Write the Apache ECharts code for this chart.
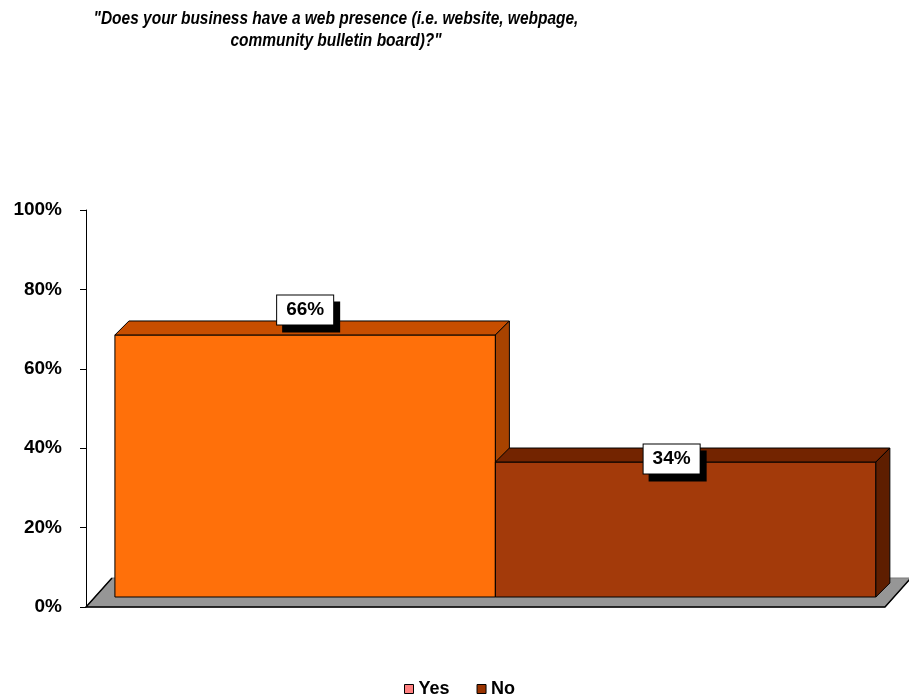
<!DOCTYPE html>
<html>
<head>
<meta charset="utf-8">
<script src="https://cdn.jsdelivr.net/npm/echarts@6/dist/echarts.min.js"></script>
<style>
  html, body { margin: 0; padding: 0; background: #ffffff; }
  #chart { width: 909px; height: 700px; }
</style>
</head>
<body>
<div id="chart"></div>
<script>
// Survey question and answers
const chartTitle = '"Does your business have a web presence (i.e. website, webpage,\ncommunity bulletin board)?"';
const answerNames = ['Yes', 'No'];
const answerShares = [66, 34];           // percent of respondents
const yTickValues = [0, 20, 40, 60, 80, 100];

const FONT = '"Liberation Sans", Arial, Helvetica, sans-serif';

// Face colours of each 3D block: front, top, side; plus the legend swatch
const faceColors = [
  { front: '#FF700A', top: '#C84E00', side: '#A84300', legend: '#FF8080' },
  { front: '#A33A0A', top: '#732400', side: '#5E1E00', legend: '#993300' }
];
// Where each value tag sits relative to the top-centre of its block's front face
const tagOffsets = [[0, -25], [-14, -3]];

const DEPTH_X = 14, DEPTH_Y = -14;   // block depth projection
const LIFT = 10;                     // blocks stand slightly behind the floor front edge
const FLOOR_DX = 26, FLOOR_DY = -29; // floor depth projection

function blockRenderer(idx) {
  const c = faceColors[idx];
  const off = tagOffsets[idx];
  return function (params, api) {
    const xi = api.value(0);
    const v = api.value(1);
    const base = api.coord([xi, 0]);
    const topRight = api.coord([xi + 1, v]);
    const x0 = base[0], x1 = topRight[0];
    const yb = base[1] - LIFT, yt = topRight[1] - LIFT;
    const edge = { stroke: '#000', lineWidth: 1 };
    return {
      type: 'group',
      children: [
        { type: 'polygon', shape: { points: [[x0, yb], [x1, yb], [x1, yt], [x0, yt]] },
          style: Object.assign({ fill: c.front }, edge) },
        { type: 'polygon', shape: { points: [[x0, yt], [x1, yt], [x1 + DEPTH_X, yt + DEPTH_Y], [x0 + DEPTH_X, yt + DEPTH_Y]] },
          style: Object.assign({ fill: c.top }, edge) },
        { type: 'polygon', shape: { points: [[x1, yb], [x1 + DEPTH_X, yb + DEPTH_Y], [x1 + DEPTH_X, yt + DEPTH_Y], [x1, yt]] },
          style: Object.assign({ fill: c.side }, edge) },
        { type: 'text', x: (x0 + x1) / 2 + off[0], y: yt + off[1], z2: 10,
          style: {
            text: v + '%', font: 'bold 19px ' + FONT, fill: '#000',
            align: 'center', verticalAlign: 'middle',
            backgroundColor: '#fff', borderColor: '#000', borderWidth: 1,
            padding: [5, 9, 5, 9],
            shadowColor: '#000', shadowBlur: 0, shadowOffsetX: 6, shadowOffsetY: 7
          } }
      ]
    };
  };
}

function floorRenderer(params, api) {
  const cs = params.coordSys;
  const fl = [cs.x, cs.y + cs.height];
  const fr = [cs.x + cs.width, cs.y + cs.height];
  const br = [fr[0] + FLOOR_DX, fr[1] + FLOOR_DY];
  const bl = [fl[0] + FLOOR_DX, fl[1] + FLOOR_DY];
  return {
    type: 'group',
    children: [
      { type: 'polygon', shape: { points: [fl, fr, br, bl] },
        style: { fill: '#969696', stroke: '#7a7a7a', lineWidth: 1 } },
      { type: 'polyline', shape: { points: [bl, fl, fr, br] },
        style: { fill: null, stroke: '#000', lineWidth: 1.5 } }
    ]
  };
}

const chart = echarts.init(document.getElementById('chart'), null, { renderer: 'canvas' });

const blockSeries = answerNames.map((name, i) => ({
  name: name,
  type: 'custom',
  renderItem: blockRenderer(i),
  itemStyle: { color: faceColors[i].legend },
  data: [[i, answerShares[i]]],
  encode: { x: 0, y: 1 },
  z: 3 + i,
  silent: true
}));

chart.setOption({
  animation: false,
  backgroundColor: '#ffffff',
  // condensed bold-italic heading, drawn as a horizontally compressed text block
  graphic: [{
    type: 'text',
    x: 336,
    y: 8,
    scaleX: 0.86,
    silent: true,
    style: {
      text: chartTitle,
      font: 'italic bold 18px ' + FONT,
      fill: '#000',
      align: 'center',
      verticalAlign: 'top',
      lineHeight: 22
    }
  }],
  grid: { left: 86, right: 24, top: 210, bottom: 93, containLabel: false },
  xAxis: { type: 'value', min: -0.076, max: 2.024, show: false },
  yAxis: {
    type: 'value',
    min: yTickValues[0],
    max: yTickValues[yTickValues.length - 1],
    interval: yTickValues[1] - yTickValues[0],
    axisLine: { show: true, onZero: false, lineStyle: { color: '#000', width: 1 } },
    axisTick: { show: true, length: 6, lineStyle: { color: '#000' } },
    splitLine: { show: false },
    axisLabel: { formatter: '{value}%', margin: 24, fontFamily: FONT, fontSize: 19, fontWeight: 'bold', color: '#000' }
  },
  legend: {
    data: answerNames.map((n, i) => ({
      name: n,
      itemStyle: { color: faceColors[i].legend, borderColor: '#000', borderWidth: 1 }
    })),
    left: 404,
    top: 680,
    padding: 0,
    icon: 'rect',
    itemWidth: 9,
    itemHeight: 9,
    itemGap: 27,
    selectedMode: false,
    textStyle: { fontFamily: FONT, fontSize: 18, fontWeight: 'bold', color: '#000' }
  },
  series: [
    { name: 'floor', type: 'custom', renderItem: floorRenderer, data: [[0, 0]], encode: { x: 0, y: 1 }, z: 1, silent: true }
  ].concat(blockSeries)
});
</script>
</body>
</html>
